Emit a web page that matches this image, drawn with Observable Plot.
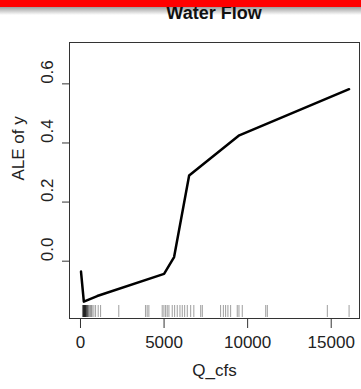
<!DOCTYPE html>
<html>
<head>
<meta charset="utf-8">
<script src="https://cdn.jsdelivr.net/npm/d3@7"></script>
<script src="https://cdn.jsdelivr.net/npm/@observablehq/plot@0.6"></script>
<style>
  html, body { margin: 0; padding: 0; background: #fff; }
  #wrap { position: relative; width: 361px; height: 389px; overflow: hidden; font-family: "Liberation Sans", Arial, sans-serif; }
  #shadow { position: absolute; left: 0; top: 7px; width: 361px; height: 8px; background: linear-gradient(rgba(140,140,140,0.85), rgba(255,255,255,0)); z-index: 1; }
  #title { position: absolute; left: 69px; width: 290px; top: 4px; text-align: center; font-weight: bold; font-size: 18px; line-height: 18px; color: #111; z-index: 2; }
  #redbar { position: absolute; left: 0; top: 0; width: 361px; height: 7px; background: #ff0000; z-index: 3; }
  #chart { position: absolute; left: 0; top: 0; }
</style>
</head>
<body>
<div id="wrap">
  <div id="chart"></div>
  <div id="shadow"></div>
  <div id="title">Water Flow</div>
  <div id="redbar"></div>
</div>
<script>
// ALE curve
const qcfs = [30, 200, 1000, 5000, 5600, 6500, 9500, 16070];
const ale  = [-0.035, -0.137, -0.118, -0.043, 0.014, 0.290, 0.426, 0.582];
// rug of observed Q_cfs values
const rugValues = [120, 150, 170, 190, 200, 200, 210, 230, 250, 250, 270, 290, 300, 310, 330, 350, 370, 400, 420,
  450, 500, 520, 600, 650, 700, 800, 900, 1060, 1200, 2290, 3890, 3990, 4090, 4890, 4990, 5090, 5190, 5290,
  5490, 5630, 5790, 5950, 6090, 6230, 6390, 6590, 6780, 7190, 7290, 8380, 8550, 8680, 8820, 8980, 9380,
  9480, 9680, 11080, 11180, 14770, 16070];
const xTicks = [0, 5000, 10000, 15000];
const yTicks = [0.0, 0.2, 0.4, 0.6];
const xTitle = "Q_cfs";
const yTitle = "ALE of y";

const curve = qcfs.map((q, i) => ({q, a: ale[i]}));

const plot = Plot.plot({
  width: 361,
  height: 389,
  marginLeft: 69,
  marginRight: 2,
  marginTop: 42,
  marginBottom: 71,
  style: {fontFamily: "'Liberation Sans', Arial, sans-serif", fontSize: "17px", color: "#222", background: "transparent"},
  x: {domain: [-658, 16693]},
  y: {domain: [-0.194, 0.740]},
  marks: [
    Plot.ruleX(rugValues, {x: d => d, stroke: "#000", strokeOpacity: 0.35, strokeWidth: 1.1, insetTop: 263, insetBottom: 1}),
    Plot.line(curve, {x: "q", y: "a", stroke: "#000", strokeWidth: 2.5, strokeLinejoin: "round"}),
    Plot.frame({stroke: "#333", strokeWidth: 1}),
    Plot.axisX({ticks: xTicks, tickSize: 10, tickPadding: 7, label: null, stroke: "#333", tickFormat: d => String(d), fill: "#222"}),
    Plot.axisY({ticks: yTicks, tickSize: 7, label: null, stroke: "#333", tickFormat: () => ""}),
    Plot.text(yTicks, {y: d => d, text: d => d.toFixed(1), frameAnchor: "left", dx: -22, rotate: -90, fill: "#222"}),
    Plot.text([yTitle], {text: d => d, frameAnchor: "left", dx: -51, rotate: -90, fill: "#222", fontSize: 17}),
    Plot.text([xTitle], {text: d => d, frameAnchor: "bottom", dy: 57, fill: "#222", fontSize: 17})
  ]
});
document.getElementById("chart").appendChild(plot);
</script>
</body>
</html>
